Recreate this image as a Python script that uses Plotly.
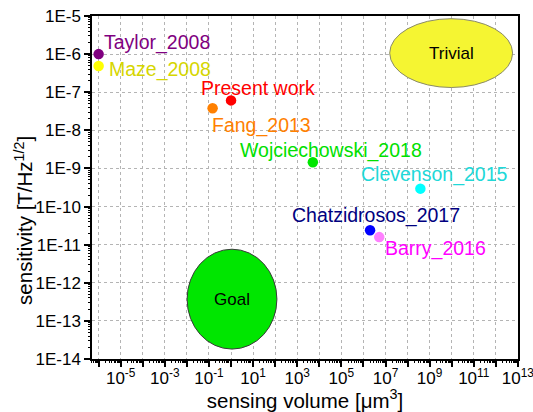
import numpy as np
import plotly.graph_objects as go

# ---- data ----
names = ["Taylor_2008", "Maze_2008", "Present work", "Fang_2013",
         "Wojciechowski_2018", "Clevenson_2015", "Chatzidrosos_2017", "Barry_2016"]
volume = [1.0e-6, 1.0e-6, 1.0, 0.146, 5.1e3, 3.8e8, 2.0e6, 5.2e6]          # µm^3
sensitivity = [1.0e-6, 4.9e-7, 6.1e-8, 3.8e-8, 1.45e-9, 2.95e-10, 2.4e-11, 1.58e-11]  # T/Hz^1/2

regions = ["Trivial", "Goal"]
region_vol = [(1.55e7, 5.75e12), (1.02e-2, 1.2e2)]
region_sens = [(1.33e-7, 8.5e-6), (1.82e-14, 7.6e-12)]

x_label_exp = list(range(-5, 14, 2))
x_label_text = ["10<sup>%d</sup>" % e for e in x_label_exp]
x_grid_exp = list(range(-6, 14))
y_tick_exp = list(range(-14, -4))
y_tick_text = ["1E%d" % e for e in y_tick_exp]

# ---- styles ----
marker_colors = ["#800080", "#ffff00", "#ff0000", "#ff8000",
                 "#00e600", "#00ffff", "#0000ff", "#ff80ff"]
text_colors = ["#800080", "#d6d600", "#ff0000", "#ff8000",
               "#00e000", "#20d8d8", "#000080", "#ff00ff"]
label_dx = [3.7, 8.7, -32, -2.3, -74.4, -61.7, -79.7, 4]
label_dy = [-11.6, 3.3, -12.7, 17, -11.6, -14.4, -14.6, 11.4]
region_fill = ["#f5f532", "#00e600"]
region_line = ["#8a8a6a", "#3a3a3a"]

FONT = "Liberation Sans, Arial, sans-serif"
GRID = dict(gridcolor="#b4b4b4", gridwidth=1, griddash="3px,3px")
XR = [-6.3, 13.004]
YR = [-14, -5]

fig = go.Figure()

for i, r in enumerate(regions):
    fig.add_shape(type="circle", xref="x", yref="y",
                  x0=region_vol[i][0], x1=region_vol[i][1],
                  y0=region_sens[i][0], y1=region_sens[i][1],
                  fillcolor=region_fill[i], line=dict(color=region_line[i], width=1),
                  layer="above")
    fig.add_annotation(x=np.log10(np.sqrt(region_vol[i][0] * region_vol[i][1])),
                       y=np.log10(np.sqrt(region_sens[i][0] * region_sens[i][1])),
                       text=r, showarrow=False,
                       font=dict(family=FONT, size=17, color="black"))

fig.add_trace(go.Scatter(
    x=volume, y=sensitivity, mode="markers",
    marker=dict(size=10.5, color=marker_colors, line=dict(width=0)),
    showlegend=False, hoverinfo="text", text=names))

# empty trace to carry the overlay axes for the fine minor ticks
fig.add_trace(go.Scatter(x=[], y=[], xaxis="x2", yaxis="y2", showlegend=False,
                         hoverinfo="skip"))

for i, n in enumerate(names):
    fig.add_annotation(x=np.log10(volume[i]), y=np.log10(sensitivity[i]),
                       text=n, showarrow=False, xanchor="left", yanchor="middle",
                       xshift=label_dx[i], yshift=-label_dy[i],
                       font=dict(family=FONT, size=19.5, color=text_colors[i]))

# y-axis title (placed like the original, slightly below the axis centre)
fig.add_annotation(text="sensitivity [T/Hz<sup>1/2</sup>]", textangle=-90,
                   xref="paper", yref="paper", x=-0.16, y=0.405,
                   xanchor="center", yanchor="middle", showarrow=False,
                   font=dict(family=FONT, size=20.5, color="black"))

fig.update_layout(
    xaxis=dict(
        type="log", range=XR,
        tickmode="array", tickvals=[10.0 ** e for e in x_label_exp], ticktext=x_label_text,
        ticks="outside", ticklen=6, tickwidth=1.5, tickcolor="black",
        ticklabelstandoff=-3, ticklabeloverflow="allow",
        showgrid=True, **GRID,
        minor=dict(tickmode="array", tickvals=[10.0 ** e for e in x_grid_exp],
                   ticks="outside", ticklen=6, tickwidth=1.5, tickcolor="black",
                   showgrid=True, **GRID),
        showline=True, linecolor="black", linewidth=1.5, mirror=True,
        zeroline=False,
        tickfont=dict(family=FONT, size=17, color="black"),
        title=dict(text="sensing volume [μm<sup>3</sup>]", standoff=6,
                   font=dict(family=FONT, size=20.5, color="black")),
    ),
    xaxis2=dict(
        type="log", range=XR, overlaying="x", anchor="y", side="bottom",
        matches="x", tickmode="linear", dtick="D1", ticks="outside", ticklen=3,
        tickwidth=1, tickcolor="black", showticklabels=False, showgrid=False,
        showline=False, zeroline=False,
    ),
    yaxis=dict(
        type="log", range=YR,
        tickmode="array", tickvals=[10.0 ** e for e in y_tick_exp], ticktext=y_tick_text,
        ticks="outside", ticklen=6, tickwidth=1.5, tickcolor="black",
        showgrid=True, **GRID,
        showline=True, linecolor="black", linewidth=1.5, mirror=True,
        zeroline=False,
        tickfont=dict(family=FONT, size=17, color="black"),
    ),
    yaxis2=dict(
        type="log", range=YR, overlaying="y", anchor="x", side="left",
        matches="y", tickmode="linear", dtick="D1", ticks="outside", ticklen=3,
        tickwidth=1, tickcolor="black", showticklabels=False, showgrid=False,
        showline=False, zeroline=False,
    ),
    width=533, height=412,
    margin=dict(l=92, r=15, t=16, b=53, autoexpand=False),
    paper_bgcolor="white", plot_bgcolor="white",
    font=dict(family=FONT),
)

fig.write_html("out.html", config={"displayModeBar": False},
               post_script="document.body.style.margin='0px';document.body.style.padding='0px';")
